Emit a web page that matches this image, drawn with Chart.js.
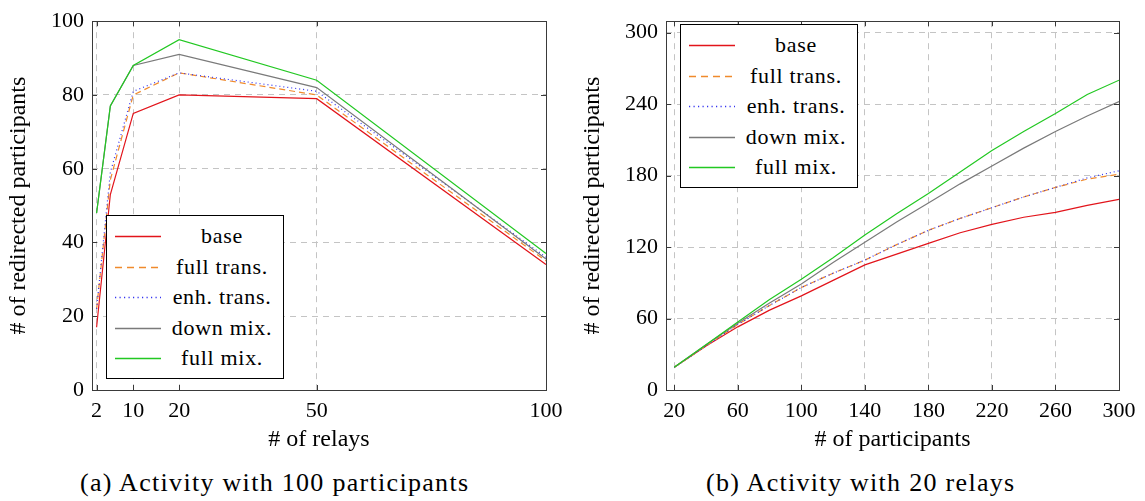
<!DOCTYPE html>
<html><head><meta charset="utf-8">
<script src="https://cdn.jsdelivr.net/npm/chart.js@4"></script>
<style>
body{margin:0;background:#fff;width:1145px;height:501px;position:relative;overflow:hidden;font-family:'Liberation Serif',serif;}
canvas{position:absolute;top:0;}
.legend{position:absolute;border:1px solid #000;background:#fff;box-sizing:border-box;}
.row{position:absolute;left:0;height:30px;width:100%;}
.row svg{position:absolute;left:8px;top:14px;}
.row span{position:absolute;left:54px;width:122px;text-align:center;font-size:22px;letter-spacing:0.7px;line-height:30px;top:0;color:#000;white-space:nowrap;}
.caption{position:absolute;font-size:26px;letter-spacing:1.3px;top:468px;white-space:nowrap;color:#000;}
</style>
</head><body>
<canvas id="c1" width="572" height="460" style="left:0;width:572px;height:460px"></canvas>
<canvas id="c2" width="573" height="460" style="left:572px;width:573px;height:460px"></canvas>
<div class="legend" id="lg1" style="left:106px;top:215px;width:178px;height:164px"></div>
<div class="legend" id="lg2" style="left:680px;top:24px;width:178px;height:164px"></div>
<div class="caption" style="left:80px">(a) Activity with 100 participants</div>
<div class="caption" style="left:706px">(b) Activity with 20 relays</div>
<script>
// ---- data (a): 100 participants, varying relays ----
const relays = [2, 5, 10, 20, 50, 100];
const relayTicks = [2, 10, 20, 50, 100];
const relayYTicks = [0, 20, 40, 60, 80, 100];
const aBase      = [17, 53, 75, 80, 79, 34];
const aFullTrans = [22, 57, 80, 86, 80, 35];
const aEnhTrans  = [22, 59, 81, 86, 81, 36];
const aDownMix   = [48, 77, 88, 91, 82, 35.5];
const aFullMix   = [48, 77, 88, 95, 84, 37];

// ---- data (b): 20 relays, varying participants ----
const participants = [20, 40, 60, 80, 100, 120, 140, 160, 180, 200, 220, 240, 260, 280, 300];
const partTicks = [20, 60, 100, 140, 180, 220, 260, 300];
const partYTicks = [0, 60, 120, 180, 240, 300];
const bBase      = [19, 37, 53, 67, 79, 92, 105, 114, 123, 132, 139, 145, 149, 155, 160];
const bFullTrans = [19, 37, 55, 71, 86, 98, 109, 122, 134, 144, 153, 162, 170, 177, 181];
const bEnhTrans  = [19, 37, 55, 71, 86, 98, 109, 122, 134, 144, 153, 162, 170, 178, 184];
const bDownMix   = [19, 38, 56, 73, 89, 107, 124, 141, 157, 173, 188, 203, 217, 230, 242];
const bFullMix   = [19, 38, 57, 76, 93, 111, 130, 148, 165, 183, 201, 217, 232, 248, 260];

const seriesNames = ['base', 'full trans.', 'enh. trans.', 'down mix.', 'full mix.'];

// ---- styles ----
const styles = [
  {color:'#e2141b', dash:[], svgDash:''},
  {color:'#f08a2c', dash:[6,4], svgDash:'7,5'},
  {color:'#3434f0', dash:[1,3], svgDash:'1.2,3.3'},
  {color:'#7a7a7a', dash:[], svgDash:''},
  {color:'#22c822', dash:[], svgDash:''}
];
const FONT = "'Liberation Serif', 'Times New Roman', serif";

function makeDatasets(xs, arrays){
  return arrays.map((ys, i) => ({
    label: seriesNames[i],
    data: xs.map((x, j) => ({x: x, y: ys[j]})),
    borderColor: styles[i].color,
    borderDash: styles[i].dash,
    borderWidth: 1.2,
    pointRadius: 0,
    tension: 0,
    fill: false,
    order: 5 - i
  }));
}

const framePlugin = {
  id: 'frame',
  afterDraw(chart){
    const {ctx, chartArea: a, scales} = chart;
    ctx.save();
    ctx.strokeStyle = '#3a3a3a';
    ctx.lineWidth = 1;
    ctx.setLineDash([]);
    ctx.strokeRect(Math.round(a.left)+0.5, Math.round(a.top)+0.5, Math.round(a.right-a.left), Math.round(a.bottom-a.top));
    const tl = 5;
    ctx.beginPath();
    scales.x.ticks.forEach(t => {
      const px = Math.round(scales.x.getPixelForValue(t.value)) + 0.5;
      ctx.moveTo(px, a.bottom); ctx.lineTo(px, a.bottom - tl);
      ctx.moveTo(px, a.top); ctx.lineTo(px, a.top + tl);
    });
    scales.y.ticks.forEach(t => {
      const py = Math.round(scales.y.getPixelForValue(t.value)) + 0.5;
      ctx.moveTo(a.left, py); ctx.lineTo(a.left + tl, py);
      ctx.moveTo(a.right, py); ctx.lineTo(a.right - tl, py);
    });
    ctx.stroke();
    ctx.restore();
  }
};

function makeChart(id, xs, arrays, cfg){
  return new Chart(document.getElementById(id), {
    type: 'line',
    data: {datasets: makeDatasets(xs, arrays)},
    plugins: [framePlugin],
    options: {
      responsive: false,
      animation: false,
      devicePixelRatio: 1,
      layout: {padding: {left: 0, top: 13, right: 26, bottom: 0}},
      plugins: {legend: {display: false}, tooltip: {enabled: false}},
      scales: {
        x: {
          type: 'linear', min: cfg.xmin, max: cfg.xmax,
          afterBuildTicks: s => { s.ticks = cfg.xticks.map(v => ({value: v})); },
          afterFit: s => { s.height = 70; },
          grid: {color: '#c4c4c4', lineWidth: 1, drawTicks: false},
          border: {display: false, dash: [6, 5]},
          ticks: {autoSkip: false, maxRotation: 0, padding: 8, color: '#000', font: {family: FONT, size: 22}},
          title: {display: true, text: cfg.xtitle, color: '#000', font: {family: FONT, size: 24}, padding: {top: 0, bottom: 6}}
        },
        y: {
          type: 'linear', min: cfg.ymin, max: cfg.ymax,
          afterBuildTicks: s => { s.ticks = cfg.yticks.map(v => ({value: v})); },
          afterFit: s => { s.width = cfg.ywidth; },
          grid: {color: '#c4c4c4', lineWidth: 1, drawTicks: false},
          border: {display: false, dash: [6, 5]},
          ticks: {padding: 8, color: '#000', font: {family: FONT, size: 22}},
          title: {display: true, text: '# of redirected participants', color: '#000', font: {family: FONT, size: 24}, padding: {top: cfg.ytitlePad, bottom: 0}}
        }
      }
    }
  });
}

function buildLegend(id){
  const box = document.getElementById(id);
  seriesNames.forEach((name, i) => {
    const row = document.createElement('div');
    row.className = 'row';
    row.style.top = (5 + i * 30.5) + 'px';
    const dash = styles[i].svgDash ? ` stroke-dasharray="${styles[i].svgDash}"` : '';
    row.innerHTML = `<svg width="46" height="3"><line x1="0" y1="1.5" x2="46" y2="1.5" stroke="${styles[i].color}" stroke-width="1.3"${dash}/></svg><span>${name}</span>`;
    box.appendChild(row);
  });
}

function draw(){
  makeChart('c1', relays, [aBase, aFullTrans, aEnhTrans, aDownMix, aFullMix],
    {xmin: 1, xmax: 100, xticks: relayTicks, ymin: 0, ymax: 100, yticks: relayYTicks, ywidth: 92, ytitlePad: 4, xtitle: '# of relays'});
  makeChart('c2', participants, [bBase, bFullTrans, bEnhTrans, bDownMix, bFullMix],
    {xmin: 14.8, xmax: 300, xticks: partTicks, ymin: 0, ymax: 309.5, yticks: partYTicks, ywidth: 94, ytitlePad: 6, xtitle: '# of participants'});
  buildLegend('lg1');
  buildLegend('lg2');
}
document.fonts.load("22px 'Liberation Serif'").then(draw, draw);
</script>
</body></html>
